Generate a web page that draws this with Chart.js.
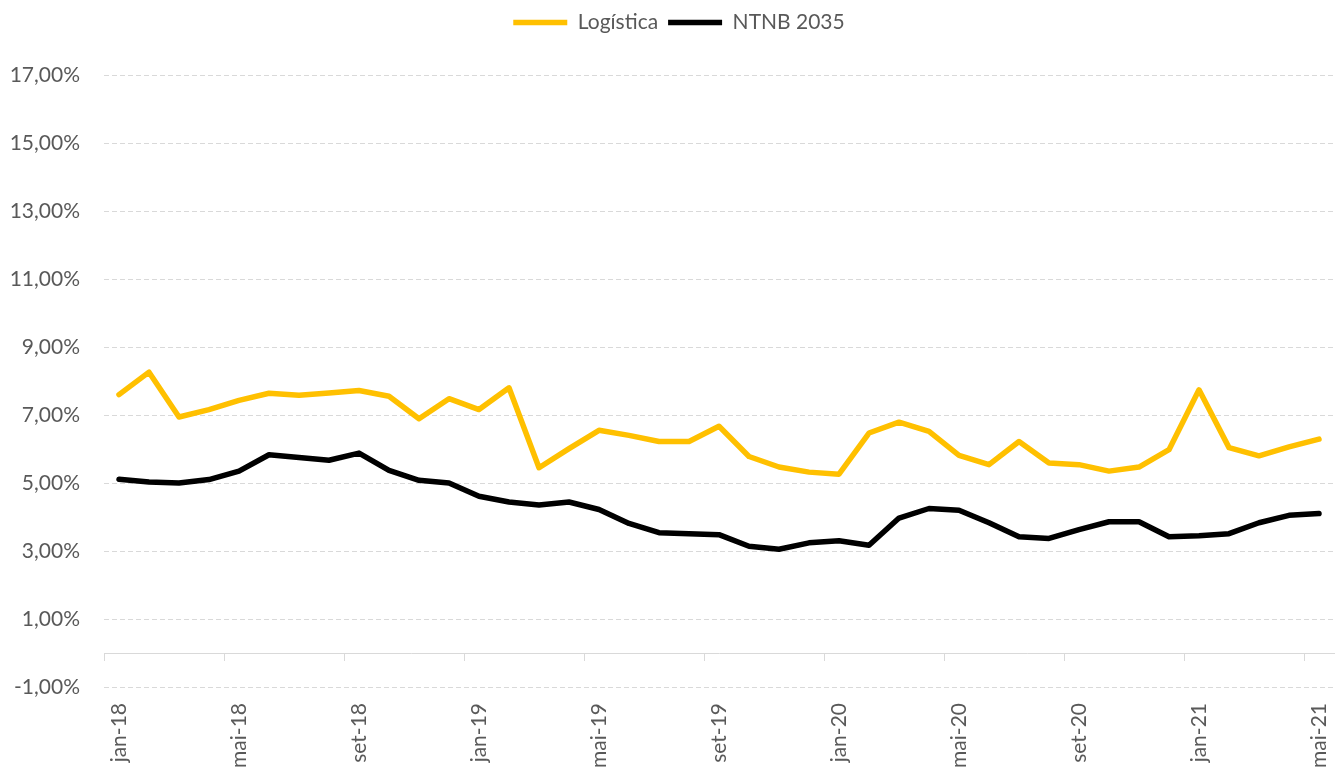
<!DOCTYPE html>
<html>
<head>
<meta charset="utf-8">
<script src="https://cdn.jsdelivr.net/npm/chart.js@4"></script>
<style>
  body { margin: 0; background: #fff; }
</style>
</head>
<body>
<canvas id="chart" width="1337" height="772"></canvas>
<script>
// Logística vs NTNB 2035 yields, monthly

const labels = [
  "jan-18","fev-18","mar-18","abr-18","mai-18","jun-18","jul-18","ago-18","set-18","out-18","nov-18","dez-18",
  "jan-19","fev-19","mar-19","abr-19","mai-19","jun-19","jul-19","ago-19","set-19","out-19","nov-19","dez-19",
  "jan-20","fev-20","mar-20","abr-20","mai-20","jun-20","jul-20","ago-20","set-20","out-20","nov-20","dez-20",
  "jan-21","fev-21","mar-21","abr-21","mai-21"
];

const logistica = [7.60, 8.26, 6.94, 7.16, 7.43, 7.64, 7.58, 7.65, 7.72, 7.55, 6.89, 7.48, 7.16, 7.80,
  5.45, 6.01, 6.55, 6.40, 6.22, 6.22, 6.67, 5.78, 5.47, 5.32, 5.26, 6.47, 6.79,
  6.52, 5.81, 5.54, 6.22, 5.59, 5.54, 5.35, 5.47, 5.98, 7.74, 6.04, 5.80, 6.06, 6.29];

const ntnb2035 = [5.11, 5.03, 5.00, 5.10, 5.35, 5.83, 5.75, 5.67, 5.88, 5.37, 5.08, 5.00, 4.61, 4.44,
  4.35, 4.44, 4.22, 3.81, 3.54, 3.51, 3.48, 3.14, 3.05, 3.24, 3.30, 3.17, 3.97,
  4.25, 4.20, 3.83, 3.42, 3.37, 3.63, 3.86, 3.86, 3.42, 3.45, 3.51, 3.83, 4.05, 4.10];

const yMin = -1, yMax = 17, yStep = 2;
const labelEvery = 4;

const textGray = '#595959';
const gridGray = '#d9d9d9';
const font = { family: 'Lato', size: 21 };

// push the plot area down below the legend, and nudge the legend right a bit
const legendSpacer = {
  id: 'legendSpacer',
  beforeInit(chart) {
    const fit = chart.legend.fit;
    chart.legend.fit = function () {
      fit.call(this);
      this.height += 32;
    };
  },
  afterLayout(chart) {
    chart.legend.left += 12;
    chart.legend.right += 12;
  }
};

new Chart(document.getElementById('chart'), {
  type: 'line',
  data: {
    labels: labels,
    datasets: [{
      label: 'Logística',
      data: logistica,
      borderColor: '#FFC000',
      backgroundColor: '#FFC000',
      borderWidth: 5.5,
      borderCapStyle: 'round',
      borderJoinStyle: 'round',
      pointRadius: 0,
      tension: 0,
      fill: false
    }, {
      label: 'NTNB 2035',
      data: ntnb2035,
      borderColor: '#000000',
      backgroundColor: '#000000',
      borderWidth: 5.5,
      borderCapStyle: 'round',
      borderJoinStyle: 'round',
      pointRadius: 0,
      tension: 0,
      fill: false
    }]
  },
  options: {
    responsive: false,
    animation: false,
    layout: { padding: { top: 2, left: 0, right: 3, bottom: 0 } },
    plugins: {
      tooltip: { enabled: false },
      legend: {
        position: 'top',
        labels: {
          color: textGray,
          font: font,
          usePointStyle: true,
          pointStyle: 'line',
          pointStyleWidth: 54,
          padding: 10
        }
      }
    },
    scales: {
      x: {
        type: 'category',
        position: { y: 0 },
        offset: true,
        afterFit: (scale) => {
          scale.height = 0;
          scale.paddingLeft = 0;
          scale.paddingRight = 0;
        },
        grid: {
          offset: true,
          drawOnChartArea: false,
          drawTicks: true,
          tickLength: 7,
          tickColor: (ctx) => ctx.index % labelEvery === 0 ? gridGray : 'rgba(0,0,0,0)'
        },
        border: { display: true, color: gridGray, width: 1 },
        ticks: { display: false }
      },
      x2: {
        type: 'category',
        position: 'bottom',
        offset: true,
        afterFit: (scale) => {
          scale.height = 85;
          scale.paddingLeft = 0;
          scale.paddingRight = 0;
        },
        grid: { display: false, drawTicks: false },
        border: { display: false },
        ticks: {
          autoSkip: false,
          minRotation: 90,
          maxRotation: 90,
          padding: 16,
          color: textGray,
          font: font,
          callback: function (value, index) {
            return index % labelEvery === 0 ? this.getLabelForValue(value) : '';
          }
        }
      },
      y: {
        min: yMin,
        max: yMax,
        afterFit: (scale) => { scale.width = 104; },
        grid: { color: gridGray, lineWidth: 1, drawTicks: false },
        border: { display: false, dash: [5, 3] },
        ticks: {
          stepSize: yStep,
          padding: 24,
          color: textGray,
          font: font,
          callback: (v) => v.toFixed(2).replace('.', ',') + '%'
        }
      }
    }
  },
  plugins: [legendSpacer]
});
</script>
</body>
</html>
